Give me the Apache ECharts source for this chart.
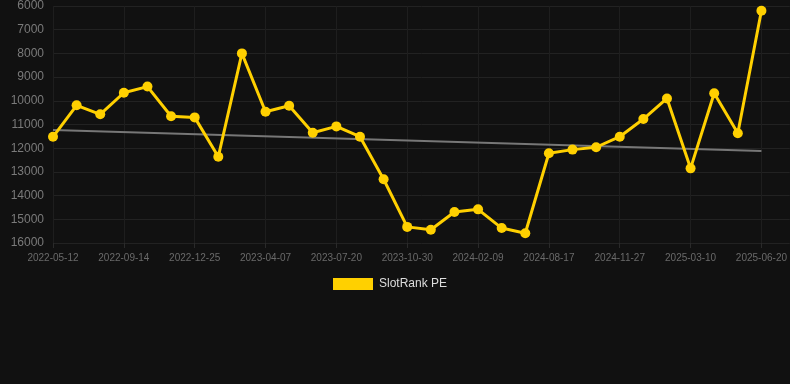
<!DOCTYPE html>
<html>
<head>
<meta charset="utf-8">
<script src="https://cdn.jsdelivr.net/npm/echarts@6/dist/echarts.min.js"></script>
<style>
html,body{margin:0;padding:0;background:#111111;}
#chart{width:790px;height:384px;}
</style>
</head>
<body>
<div id="chart"></div>
<script>
var dates = ['2022-05-12','2022-06-23','2022-08-04','2022-09-14','2022-10-18','2022-11-21','2022-12-25','2023-01-31','2023-03-04','2023-04-07','2023-05-12','2023-06-15','2023-07-20','2023-08-23','2023-09-26','2023-10-30','2023-12-03','2024-01-06','2024-02-09','2024-04-15','2024-06-16','2024-08-17','2024-09-23','2024-10-25','2024-11-27','2025-01-01','2025-02-04','2025-03-10','2025-04-13','2025-05-17','2025-06-20'];
var slotRankPE = [11520,10190,10570,9660,9400,10650,10700,12360,8000,10460,10210,11345,11080,11515,13310,15320,15440,14690,14580,15370,15590,12215,12060,11960,11515,10770,9900,12850,9680,11370,6200];
var trendStart = 11230;
var trendEnd = 12120;
var yTicks = [6000,7000,8000,9000,10000,11000,12000,13000,14000,15000,16000];

var mainData = slotRankPE.map(function(v,i){return [i,v];});
var trendData = [[0,trendStart],[dates.length-1,trendEnd]];

var chart = echarts.init(document.getElementById('chart'));
chart.setOption({
  backgroundColor:'#111111',
  animation:false,
  grid:{left:53,right:0,top:6,bottom:141},
  legend:{
    data:['SlotRank PE'],
    top:278,
    left:333,
    padding:0,
    itemWidth:40,
    itemHeight:12,
    itemGap:10,
    icon:'rect',
    textStyle:{color:'#dddddd',fontSize:12,padding:[0,0,0,1],fontFamily:'Liberation Sans, Arial, sans-serif'}
  },
  xAxis:{
    type:'value',
    min:0,
    max:31.2,
    interval:3,
    axisLine:{show:false},
    axisTick:{show:true,length:5,lineStyle:{color:'#2a2a2a'}},
    splitLine:{show:true,lineStyle:{color:'#1e1e1e',width:1}},
    axisLabel:{
      color:'#6a6a6a',fontSize:10,margin:10,
      fontFamily:'Liberation Sans, Arial, sans-serif',
      showMaxLabel:false,
      formatter:function(v){return dates[Math.round(v)]||'';}
    }
  },
  yAxis:{
    type:'value',
    inverse:true,
    min:yTicks[0],
    max:yTicks[yTicks.length-1],
    interval:1000,
    axisLine:{show:false},
    axisTick:{show:false},
    splitLine:{show:true,lineStyle:{color:'#222222',width:1}},
    axisLabel:{color:'#7a7a7a',fontSize:12,margin:9,fontFamily:'Liberation Sans, Arial, sans-serif',
      formatter:function(v){return String(v);}}
  },
  series:[
    {
      name:'Trend',
      type:'line',
      data:trendData,
      symbol:'none',
      lineStyle:{color:'#777777',width:2},
      z:1,
      silent:true
    },
    {
      name:'SlotRank PE',
      type:'line',
      data:mainData,
      symbol:'circle',
      symbolSize:10,
      itemStyle:{color:'#FFD000'},
      lineStyle:{color:'#FFD000',width:3},
      z:3
    }
  ]
});
</script>
</body>
</html>
